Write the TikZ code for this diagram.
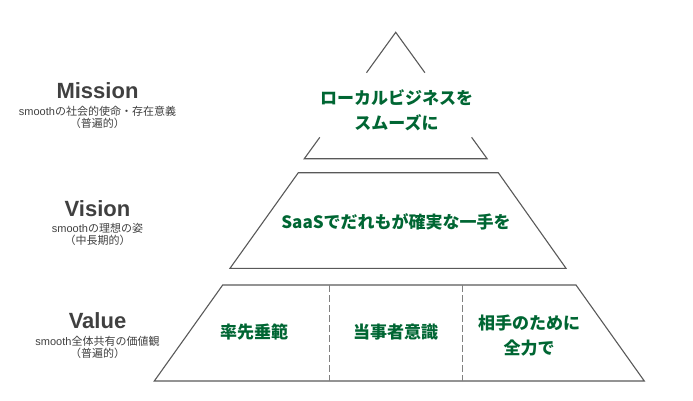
\documentclass[tikz,border=0pt]{standalone}
\usepackage{fontspec}
\setmainfont{Liberation Sans}
\newfontfamily\jp{Noto Sans CJK JP}
\definecolor{sgreen}{RGB}{0,102,51}
\definecolor{lgray}{RGB}{64,64,64}
\definecolor{egray}{RGB}{89,89,89}

\begin{document}
\begin{tikzpicture}[x=1pt,y=-1pt,
  tier/.style={draw=egray,line width=1.1pt,line join=miter},
  sep/.style={draw=gray,line width=1pt,dash pattern=on 7pt off 3pt},
  goal/.style={align=center,text=sgreen,font=\jp\bfseries\fontsize{17}{25}\selectfont,inner sep=0pt},
  head/.style={text=lgray,font=\bfseries\fontsize{22}{26}\selectfont,inner sep=0pt},
  note/.style={align=center,text=lgray,font=\jp\fontsize{11}{11.5}\selectfont,inner sep=0pt}]
\useasboundingbox (0,0) rectangle (693,401);
% pyramid, top tier is cut open round its text
\draw[tier] (366.5,72.7)--(395.7,32.3)--(424.9,72.7);
\draw[tier] (319.8,137.3)--(304.3,158.7)--(487.1,158.7)--(471.6,137.3);
\draw[tier] (298.3,172.7)--(498.3,172.7)--(566,268.3)--(230,268.3)--cycle;
\draw[tier] (222.7,285)--(576,285)--(644.3,381)--(154.3,381)--cycle;
\draw[sep] (329,285)--(329,381); \draw[sep] (462.3,285)--(462.3,381);
% tier texts
\node[goal] (mg) at (396.5,110.5) {ローカルビジネスを\\スムーズに};
\node[goal] (vg) at (396,221.7) {SaaSでだれもが確実な一手を};
\node[goal] (va1) at (254,331.7) {率先垂範};
\node[goal] (va2) at (395.7,331.7) {当事者意識};
\node[goal] (va3) at (529,335.3) {相手のために\\全力で};
% left labels
\node[head] (mh) at (97.5,90.7) {Mission};
\node[note] (mn) at (97.5,117.2) {{\rmfamily smooth}の社会的使命・存在意義\\（普遍的）};
\node[head] (vh) at (97.5,208.3) {Vision};
\node[note] (vn) at (97.5,234.2) {{\rmfamily smooth}の理想の姿\\（中長期的）};
\node[head] (vah) at (97.5,320.7) {Value};
\node[note] (van) at (97.5,347.5) {{\rmfamily smooth}全体共有の価値観\\（普遍的）};
\end{tikzpicture}
\end{document}
